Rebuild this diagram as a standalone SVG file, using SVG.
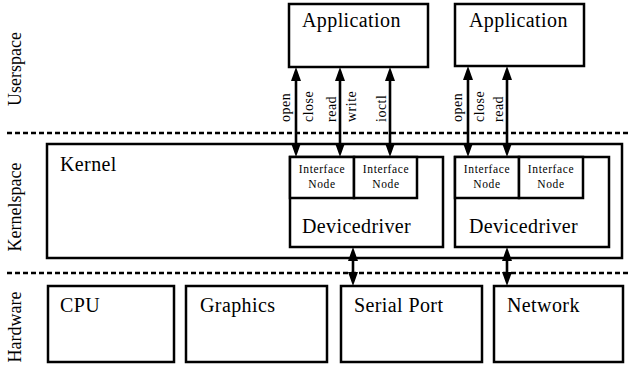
<svg xmlns="http://www.w3.org/2000/svg" width="629" height="366" viewBox="0 0 629 366">
<style>
text{font-family:"Liberation Serif","Times New Roman",serif;fill:#000}
.box{fill:#fff;stroke:#000;stroke-width:2.5}
.big{font-size:20px;letter-spacing:0.4px}
.lab{font-size:18px}
.sm{font-size:11.5px;letter-spacing:0.6px}
.arl{font-size:14px;letter-spacing:0.5px}
.dash{stroke:#000;stroke-width:2.5;stroke-dasharray:5 3;fill:none}
.conn{stroke:#000;stroke-width:2.6;fill:none;marker-start:url(#ah);marker-end:url(#ah)}
</style>
<defs>
<marker id="ah" markerUnits="userSpaceOnUse" viewBox="0 0 14 10" markerWidth="14" markerHeight="10" refX="0" refY="5" orient="auto-start-reverse">
<path d="M0,0 L14,5 L0,10 z" fill="#000"/>
</marker>
</defs>
<rect width="629" height="366" fill="#fff"/>
<g id="layers">
<line class="dash" x1="7" y1="133" x2="629" y2="133"/>
<line class="dash" x1="7" y1="273" x2="629" y2="273"/>
<text class="lab" text-anchor="middle" transform="translate(21,69) rotate(-90)">Userspace</text>
<text class="lab" text-anchor="middle" transform="translate(21,207) rotate(-90)">Kernelspace</text>
<text class="lab" text-anchor="middle" transform="translate(21,327) rotate(-90)">Hardware</text>
</g>
<g id="app1"><rect class="box" x="289" y="4" width="139" height="63"/><text class="big" x="302" y="27">Application</text></g>
<g id="app2"><rect class="box" x="455" y="4" width="129" height="62"/><text class="big" x="469" y="27">Application</text></g>
<g id="kernel"><rect class="box" x="47" y="144" width="575" height="114"/><text class="big" x="60" y="171">Kernel</text></g>
<g id="dd1"><rect class="box" x="290" y="157" width="153" height="90"/><text class="big" x="302" y="233">Devicedriver</text></g>
<g id="if1"><rect class="box" x="290" y="157" width="64" height="41"/><text class="sm" text-anchor="middle" x="322" y="173">Interface</text><text class="sm" text-anchor="middle" x="322" y="188">Node</text></g>
<g id="if2"><rect class="box" x="354" y="157" width="63" height="41"/><text class="sm" text-anchor="middle" x="386" y="173">Interface</text><text class="sm" text-anchor="middle" x="386" y="188">Node</text></g>
<g id="dd2"><rect class="box" x="455" y="157" width="154" height="90"/><text class="big" x="469" y="233">Devicedriver</text></g>
<g id="if3"><rect class="box" x="455" y="157" width="64" height="41"/><text class="sm" text-anchor="middle" x="487" y="173">Interface</text><text class="sm" text-anchor="middle" x="487" y="188">Node</text></g>
<g id="if4"><rect class="box" x="519" y="157" width="64" height="41"/><text class="sm" text-anchor="middle" x="551" y="173">Interface</text><text class="sm" text-anchor="middle" x="551" y="188">Node</text></g>
<g id="cpu"><rect class="box" x="48" y="286" width="126" height="76"/><text class="big" x="60" y="312">CPU</text></g>
<g id="graphics"><rect class="box" x="186" y="286" width="141" height="76"/><text class="big" x="200" y="312">Graphics</text></g>
<g id="serial"><rect class="box" x="341" y="286" width="141" height="76"/><text class="big" x="354" y="312">Serial Port</text></g>
<g id="network"><rect class="box" x="494" y="286" width="129" height="76"/><text class="big" x="507" y="312">Network</text></g>
<g id="connectors">
<line class="conn" x1="296" y1="81" x2="296" y2="143"/>
<line class="conn" x1="340" y1="81" x2="340" y2="143"/>
<line class="conn" x1="390" y1="81" x2="390" y2="143"/>
<line class="conn" x1="468" y1="80" x2="468" y2="143"/>
<line class="conn" x1="507" y1="80" x2="507" y2="143"/>
<line class="conn" x1="353" y1="261" x2="353" y2="272"/>
<line class="conn" x1="507" y1="261" x2="507" y2="272"/>
<text class="arl" transform="translate(290,122) rotate(-90)">open</text>
<text class="arl" transform="translate(313,122) rotate(-90)">close</text>
<text class="arl" transform="translate(336,122) rotate(-90)">read</text>
<text class="arl" transform="translate(356,122) rotate(-90)">write</text>
<text class="arl" transform="translate(386,122) rotate(-90)">ioctl</text>
<text class="arl" transform="translate(462,122) rotate(-90)">open</text>
<text class="arl" transform="translate(484,122) rotate(-90)">close</text>
<text class="arl" transform="translate(503,122) rotate(-90)">read</text>
</g>
</svg>
